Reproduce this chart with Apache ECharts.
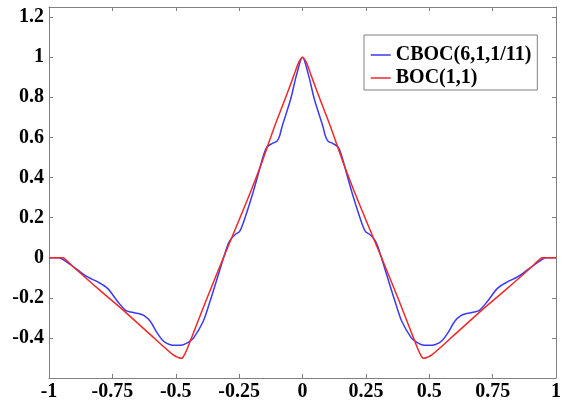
<!DOCTYPE html>
<html>
<head>
<meta charset="utf-8">
<script src="https://cdn.jsdelivr.net/npm/echarts@6/dist/echarts.min.js"></script>
<style>
  html, body { margin: 0; padding: 0; background: #fff; }
  #chart { width: 564px; height: 402px; }
</style>
</head>
<body>
<div id="chart"></div>
<script>
// x ticks every 0.25 from -1 to 1, y ticks every 0.2
const xTicks = [-1, -0.75, -0.5, -0.25, 0, 0.25, 0.5, 0.75, 1];
const yTicks = [-0.4, -0.2, 0, 0.2, 0.4, 0.6, 0.8, 1, 1.2];

// CBOC(6,1,1/11) correlation (blue)
const cbocX = [-1, -0.96, -0.938, -0.888, -0.848, -0.808, -0.77, -0.73, -0.698, -0.678, -0.648, -0.626,
  -0.6, -0.574, -0.548, -0.522, -0.498, -0.47, -0.448, -0.43, -0.392, -0.366, -0.34, -0.312, -0.294,
  -0.28, -0.264, -0.248, -0.234, -0.202, -0.175, -0.155, -0.14, -0.12, -0.1, -0.09, -0.081, -0.046,
  -0.024, 0,
  0.024, 0.046, 0.081, 0.09, 0.1, 0.12, 0.14, 0.155, 0.175, 0.202, 0.234, 0.248, 0.264, 0.28, 0.294,
  0.312, 0.34, 0.366, 0.392, 0.43, 0.448, 0.47, 0.498, 0.522, 0.548, 0.574, 0.6, 0.626, 0.648, 0.678,
  0.698, 0.73, 0.77, 0.808, 0.848, 0.888, 0.938, 0.96, 1];
const cbocY = [0, 0, -0.015, -0.06, -0.096, -0.121, -0.152, -0.217, -0.263, -0.271, -0.278, -0.288,
  -0.318, -0.374, -0.417, -0.434, -0.437, -0.434, -0.42, -0.401, -0.318, -0.222, -0.118, -0.003, 0.066,
  0.097, 0.117, 0.131, 0.172, 0.296, 0.415, 0.506, 0.552, 0.569, 0.582, 0.608, 0.652, 0.794,
  0.909, 1,
  0.909, 0.794, 0.652, 0.608, 0.582, 0.569, 0.552, 0.506, 0.415, 0.296, 0.172, 0.131, 0.117, 0.097, 0.066,
  -0.003, -0.118, -0.222, -0.318, -0.401, -0.42, -0.434, -0.437, -0.434, -0.417, -0.374, -0.318, -0.288,
  -0.278, -0.271, -0.263, -0.217, -0.152, -0.121, -0.096, -0.06, -0.015, 0, 0];

// BOC(1,1) correlation (red)
const bocX = [-1, -0.97, -0.945, -0.93, -0.9, -0.8, -0.7, -0.6, -0.51, -0.49, -0.478, -0.47, -0.455,
  -0.43, -0.38, -0.312, -0.28, -0.215, -0.16, -0.111, -0.068, -0.034, -0.015, 0,
  0.015, 0.034, 0.068, 0.111, 0.16, 0.215, 0.28, 0.312, 0.38, 0.43, 0.455, 0.47, 0.478, 0.49, 0.51,
  0.6, 0.7, 0.8, 0.9, 0.93, 0.945, 0.97, 1];
const bocY = [0, 0, 0, -0.015, -0.05, -0.162, -0.27, -0.384, -0.485, -0.498, -0.502, -0.494, -0.455,
  -0.374, -0.212, 0, 0.097, 0.296, 0.476, 0.652, 0.794, 0.909, 0.974, 1,
  0.974, 0.909, 0.794, 0.652, 0.476, 0.296, 0.097, 0, -0.212, -0.374, -0.455, -0.494, -0.502, -0.498, -0.485,
  -0.384, -0.27, -0.162, -0.05, -0.015, 0, 0, 0];

const pairs = (xs, ys) => xs.map((x, i) => [x, ys[i]]);

const font = { fontFamily: "Liberation Serif", fontWeight: "bold", fontSize: 20, color: "#000" };
const axisLine = { show: true, onZero: false, lineStyle: { color: "#808080", width: 1 } };
const tick = { show: true, inside: true, length: 4, lineStyle: { color: "#808080" } };

const chart = echarts.init(document.getElementById("chart"));
chart.setOption({
  backgroundColor: "#fff",
  animation: false,
  grid: { left: 49, right: 4, top: 7, bottom: 21 },
  legend: {
    orient: "vertical",
    left: 364,
    top: 35,
    padding: [10, 6, 2, 6],
    itemGap: 3,
    itemWidth: 20,
    itemHeight: 20,
    borderColor: "#808080",
    borderWidth: 1,
    backgroundColor: "#fff",
    itemStyle: { opacity: 0 },
    lineStyle: { width: 1.5 },
    textStyle: font,
    data: ["CBOC(6,1,1/11)", "BOC(1,1)"]
  },
  xAxis: [
    {
      type: "value", min: xTicks[0], max: xTicks[xTicks.length - 1], interval: 0.25,
      axisLine: axisLine, axisTick: tick, splitLine: { show: false },
      axisLabel: Object.assign({ margin: 4 }, font)
    },
    {
      type: "value", position: "top", min: xTicks[0], max: xTicks[xTicks.length - 1], interval: 0.25,
      axisLine: axisLine, axisTick: tick, splitLine: { show: false }, axisLabel: { show: false }
    }
  ],
  yAxis: [
    {
      type: "value", min: -0.6, max: 1.25, interval: 0.2,
      axisLine: axisLine, axisTick: tick, splitLine: { show: false },
      axisLabel: Object.assign({
        margin: 5, showMinLabel: false, showMaxLabel: false,
        formatter: v => (yTicks.some(t => Math.abs(t - v) < 1e-6) ? String(+v.toFixed(2)) : "")
      }, font)
    },
    {
      type: "value", position: "right", min: -0.6, max: 1.25, interval: 0.2,
      axisLine: axisLine, axisTick: tick, splitLine: { show: false }, axisLabel: { show: false }
    }
  ],
  series: [
    {
      name: "CBOC(6,1,1/11)",
      type: "line",
      data: pairs(cbocX, cbocY),
      symbol: "none",
      smooth: 0.3,
      lineStyle: { color: "#3a3af5", width: 1.5 },
      itemStyle: { color: "#3a3af5" },
      z: 2
    },
    {
      name: "BOC(1,1)",
      type: "line",
      data: pairs(bocX, bocY),
      symbol: "none",
      smooth: 0.3,
      lineStyle: { color: "#f02828", width: 1.5 },
      itemStyle: { color: "#f02828" },
      z: 3
    }
  ]
});
</script>
</body>
</html>
